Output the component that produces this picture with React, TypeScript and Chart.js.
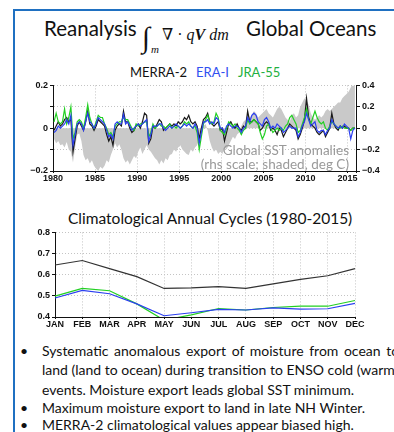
import React, { useEffect, useRef } from "react";
import { Chart, registerables } from "chart.js";

Chart.register(...registerables);

// ---------- Top chart data (quarterly, Jan 1980 - Dec 2015) ----------
const startYear = 1980;
const samplesPerYear = 4;

// MERRA-2, lhs scale
const merra2 = [
  -0.01, 0.01, 0.03, 0.01,
  0.02, 0.04, 0.05, 0.03,
  0.04, -0.11, -0.05, 0.01,
  0.03, 0.01, -0.01, 0.03,
  0.08, 0.02, 0.01, -0.01,
  0.01, 0.04, 0.03, 0.02,
  0.01, -0.03, -0.06, -0.04,
  -0.08, -0.01, 0.01, 0.02,
  0.01, 0.08, 0.03, 0.03,
  0.0, -0.02, -0.01, 0.01,
  0.02, 0.0, 0.03, 0.07,
  0.06, -0.07, -0.05, 0.01,
  0.0, 0.02, 0.04, 0.03,
  -0.01, 0.0, 0.01, 0.02,
  0.01, 0.02, 0.01, 0.03,
  0.02, 0.03, 0.05, 0.04,
  0.06, 0.03, 0.02, 0.03,
  0.01, -0.05, 0.0, 0.04,
  0.05, 0.07, 0.03, 0.02,
  0.01, 0.02, 0.03, -0.01,
  0.0, -0.06, -0.02, 0.02,
  0.03, 0.01, 0.0, 0.02,
  0.0, -0.01, 0.01, 0.0,
  0.08, 0.03, 0.03, 0.04,
  0.03, 0.02, -0.01, 0.0,
  0.02, 0.03, 0.02, -0.01,
  0.0, -0.01, -0.03, 0.0,
  -0.01, -0.04, -0.02, 0.0,
  0.02, 0.01, 0.0, -0.01,
  -0.05, -0.03, 0.0, 0.04,
  0.14, 0.05, 0.02, 0.01,
  0.0, -0.02, -0.03, -0.02,
  -0.01, -0.04, -0.02, 0.0,
  0.07, 0.02, 0.0, -0.01,
  0.01, 0.0, 0.01, 0.0,
  0.0, -0.01, 0.0, 0.0,
];

// ERA-I, lhs scale
const eraI = [
  -0.02, -0.01, 0.01, 0.0,
  0.01, 0.02, 0.04, 0.02,
  0.06, -0.08, -0.03, 0.02,
  0.03, 0.02, -0.01, 0.03,
  0.07, 0.03, 0.02, 0.0,
  0.02, 0.05, 0.04, 0.03,
  0.02, -0.01, -0.04, -0.03,
  -0.05, 0.02, 0.03, 0.02,
  0.02, 0.065, 0.02, 0.03,
  0.01, -0.01, 0.0, 0.01,
  0.02, 0.01, 0.02, 0.03,
  0.04, -0.06, -0.03, 0.01,
  0.01, 0.01, 0.02, 0.02,
  0.0, -0.01, 0.0, 0.01,
  0.0, 0.01, 0.02, 0.01,
  0.0, 0.01, 0.02, 0.01,
  0.02, 0.01, 0.0, 0.02,
  0.0, -0.07, -0.02, 0.03,
  0.03, 0.04, 0.02, 0.03,
  0.02, 0.05, 0.04, 0.0,
  0.0, -0.02, 0.01, 0.02,
  0.01, 0.0, 0.01, 0.01,
  0.0, -0.02, 0.0, 0.01,
  0.05, 0.03, 0.06, 0.07,
  0.06, 0.03, 0.02, 0.01,
  0.04, 0.05, 0.03, 0.0,
  0.01, 0.0, 0.02, 0.01,
  0.0, -0.02, -0.01, 0.0,
  0.01, 0.0, 0.0, 0.0,
  -0.04, -0.02, 0.01, 0.03,
  0.07, 0.04, 0.01, 0.02,
  0.03, -0.01, -0.02, -0.01,
  -0.01, -0.03, -0.01, 0.0,
  0.04, 0.02, 0.01, 0.0,
  0.01, 0.0, 0.02, 0.01,
  0.0, -0.05, -0.01, 0.0,
];

// JRA-55, lhs scale
const jra55 = [
  0.03, 0.07, 0.03, 0.02,
  0.03, 0.09, 0.02, 0.05,
  0.1, -0.05, -0.02, 0.03,
  0.04, 0.03, 0.0, 0.05,
  0.11, 0.05, 0.02, 0.0,
  0.03, 0.06, 0.05, 0.05,
  0.02, 0.0, -0.03, -0.02,
  -0.04, 0.01, 0.02, 0.03,
  0.03, 0.05, 0.04, 0.04,
  0.02, 0.0, -0.01, 0.02,
  0.01, 0.02, 0.02, 0.03,
  0.03, -0.04, -0.02, 0.02,
  0.0, 0.01, 0.02, 0.01,
  0.01, 0.0, 0.01, 0.02,
  0.0, 0.01, 0.0, 0.01,
  0.0, 0.01, 0.03, 0.02,
  0.03, 0.01, 0.0, 0.01,
  -0.02, -0.1, -0.04, 0.02,
  0.04, 0.06, 0.03, 0.02,
  0.03, 0.07, 0.05, -0.01,
  -0.02, -0.03, 0.0, 0.03,
  0.02, 0.01, 0.02, 0.0,
  -0.01, -0.03, -0.01, 0.0,
  0.04, 0.02, 0.03, 0.04,
  0.03, 0.02, -0.02, -0.05,
  -0.03, 0.01, 0.02, 0.0,
  -0.02, -0.01, 0.0, -0.01,
  0.0, -0.01, 0.01, 0.02,
  0.05, 0.06, 0.04, 0.02,
  -0.02, -0.01, 0.02, 0.05,
  0.09, 0.04, 0.02, 0.05,
  0.08, 0.05, 0.03, 0.02,
  0.03, 0.0, -0.01, 0.01,
  0.03, 0.02, 0.01, 0.0,
  0.0, 0.01, 0.0, 0.0,
  0.0, -0.01, 0.0, 0.0,
];

// Global SST anomalies (deg C), rhs scale
const sstAnomaly = [
  -0.1, -0.14, -0.12, -0.16,
  -0.15, -0.18, -0.13, -0.2,
  -0.22, -0.32, -0.18, -0.06,
  -0.05, -0.12, -0.25, -0.3,
  -0.28, -0.33, -0.3, -0.35,
  -0.38, -0.4, -0.36, -0.38,
  -0.35, -0.3, -0.32, -0.25,
  -0.2, -0.14, -0.18, -0.15,
  -0.2, -0.28, -0.32, -0.3,
  -0.34, -0.3, -0.26, -0.28,
  -0.22, -0.18, -0.24, -0.2,
  -0.16, -0.2, -0.22, -0.25,
  -0.28, -0.3, -0.34, -0.3,
  -0.33, -0.28, -0.3, -0.25,
  -0.24, -0.2, -0.22, -0.18,
  -0.16, -0.2, -0.22, -0.24,
  -0.25, -0.2, -0.22, -0.18,
  -0.16, -0.1, -0.04, 0.02,
  0.04, -0.02, -0.12, -0.18,
  -0.22, -0.2, -0.24, -0.22,
  -0.24, -0.18, -0.2, -0.16,
  -0.12, -0.08, -0.1, -0.06,
  -0.04, 0.02, 0.06, 0.08,
  0.14, 0.1, 0.12, 0.16,
  0.14, 0.1, 0.12, 0.14,
  0.16, 0.18, 0.14, 0.12,
  0.1, 0.14, 0.18, 0.2,
  0.18, 0.14, 0.1, 0.08,
  0.06, 0.12, 0.14, 0.1,
  0.12, 0.2, 0.24, 0.28,
  0.26, 0.22, 0.14, 0.1,
  0.08, 0.1, 0.12, 0.1,
  0.12, 0.16, 0.18, 0.16,
  0.18, 0.2, 0.22, 0.24,
  0.24, 0.28, 0.3, 0.32,
  0.34, 0.38, 0.42, 0.45,
];

const leftTickLabels = [0.2, 0, -0.2];
const rightTickLabels = [0.4, 0.2, 0, -0.2, -0.4];
const yearTickLabels = [1980, 1985, 1990, 1995, 2000, 2005, 2010, 2015];

// ---------- Bottom chart data (climatological annual cycles) ----------
const months = ["JAN", "FEB", "MAR", "APR", "MAY", "JUN", "JUL", "AUG", "SEP", "OCT", "NOV", "DEC"];
const merra2Clim = [0.646, 0.667, 0.629, 0.591, 0.535, 0.538, 0.544, 0.535, 0.557, 0.578, 0.595, 0.629];
const eraIClim = [0.49, 0.526, 0.51, 0.462, 0.406, 0.42, 0.436, 0.433, 0.443, 0.437, 0.439, 0.464];
const jra55Clim = [0.499, 0.535, 0.524, 0.462, 0.385, 0.41, 0.44, 0.433, 0.445, 0.451, 0.451, 0.478];

const BLACK = "#1a1a1a";
const BLUE = "#2b3ff0";
const GREEN = "#22d022";
const FRAME = "#1f70c1";
const TICK_FONT = { family: "'Liberation Sans', Arial, sans-serif", size: 9, weight: "bold" as const };
const GRID = "#c4c4c4";

const toXY = (arr: number[]) => arr.map((v, i) => ({ x: startYear + (i + 0.5) / samplesPerYear, y: v }));
const fmtMinus = (v: number) => (v < 0 ? "\u2212" + String(Math.abs(v)) : String(v));

function TopChart() {
  const ref = useRef<HTMLCanvasElement>(null);
  useEffect(() => {
    if (!ref.current) return;
    const chart = new Chart(ref.current, {
      type: "line",
      data: {
        datasets: [
          { label: "MERRA-2", data: toXY(merra2), borderColor: BLACK, borderWidth: 1.2, pointRadius: 0, yAxisID: "y", order: 3, tension: 0 },
          { label: "JRA-55", data: toXY(jra55), borderColor: GREEN, borderWidth: 1.2, pointRadius: 0, yAxisID: "y", order: 2, tension: 0 },
          { label: "ERA-I", data: toXY(eraI), borderColor: BLUE, borderWidth: 1.2, pointRadius: 0, yAxisID: "y", order: 1, tension: 0 },
          { label: "SST", data: toXY(sstAnomaly), borderColor: "rgba(0,0,0,0)", borderWidth: 0, backgroundColor: "#c9c9c9", fill: "origin", pointRadius: 0, yAxisID: "y2", order: 10, tension: 0 },
        ],
      },
      options: {
        animation: false,
        responsive: false,
        devicePixelRatio: 1,
        layout: { padding: { top: 7, left: 0, right: 0, bottom: 0 } },
        plugins: { legend: { display: false }, tooltip: { enabled: false } },
        scales: {
          x: {
            type: "linear",
            min: 1980,
            max: 2016,
            afterFit: (s: any) => { s.height = 19; },
            afterBuildTicks: (s: any) => { s.ticks = [...yearTickLabels, 2016].map((v) => ({ value: v })); },
            ticks: {
              font: TICK_FONT,
              color: "#111",
              padding: 0,
              maxRotation: 0,
              autoSkip: false,
              callback: (v: any) => (yearTickLabels.includes(Number(v)) ? String(v) : ""),
            },
            grid: { color: GRID, tickLength: 2, tickColor: "#111", drawTicks: true },
            border: { color: "#111", width: 1, dash: [1, 2] },
          },
          y: {
            position: "left",
            min: -0.2,
            max: 0.2,
            afterFit: (s: any) => { s.width = 53; },
            afterBuildTicks: (s: any) => { s.ticks = [-0.2, -0.1, 0, 0.1, 0.2].map((v) => ({ value: v })); },
            ticks: {
              font: TICK_FONT,
              color: "#111",
              padding: 2,
              callback: (v: any) => (leftTickLabels.includes(Number(v)) ? fmtMinus(Number(v)) : ""),
            },
            grid: { color: GRID, tickLength: 3, tickColor: "#111" },
            border: { color: "#111", width: 1, dash: [1, 2] },
          },
          y2: {
            position: "right",
            min: -0.4,
            max: 0.4,
            afterFit: (s: any) => { s.width = 38; },
            afterBuildTicks: (s: any) => { s.ticks = rightTickLabels.map((v) => ({ value: v })); },
            ticks: {
              font: TICK_FONT,
              color: "#111",
              padding: 2,
              callback: (v: any) => fmtMinus(Number(v)),
            },
            grid: { drawOnChartArea: false, tickLength: 4, tickColor: "#111" },
            border: { color: "#111", width: 1 },
          },
        },
      },
    } as any);
    return () => chart.destroy();
  }, []);
  return <canvas ref={ref} width={394} height={112} style={{ position: "absolute", left: 0, top: 78, width: 394, height: 112 }} />;
}

function BottomChart() {
  const ref = useRef<HTMLCanvasElement>(null);
  useEffect(() => {
    if (!ref.current) return;
    const chart = new Chart(ref.current, {
      type: "line",
      data: {
        labels: months,
        datasets: [
          { label: "MERRA-2", data: merra2Clim, borderColor: "#333", borderWidth: 1.2, pointRadius: 0, order: 3, tension: 0 },
          { label: "JRA-55", data: jra55Clim, borderColor: GREEN, borderWidth: 1.2, pointRadius: 0, order: 2, tension: 0 },
          { label: "ERA-I", data: eraIClim, borderColor: BLUE, borderWidth: 1.2, pointRadius: 0, order: 1, tension: 0 },
        ],
      },
      options: {
        animation: false,
        responsive: false,
        devicePixelRatio: 1,
        layout: { padding: { top: 6, left: 0, right: 39, bottom: 0 } },
        plugins: { legend: { display: false }, tooltip: { enabled: false } },
        scales: {
          x: {
            offset: false,
            afterFit: (s: any) => { s.height = 13; },
            ticks: { font: TICK_FONT, color: "#111", padding: 0, maxRotation: 0, autoSkip: false },
            grid: { color: GRID, tickLength: 2, tickColor: "#111", offset: false },
            border: { color: "#111", width: 1, dash: [1, 2] },
          },
          y: {
            min: 0.4,
            max: 0.8,
            afterFit: (s: any) => { s.width = 55; },
            afterBuildTicks: (s: any) => {
              const t = [];
              for (let k = 0; k <= 8; k++) t.push({ value: Number((0.4 + k * 0.05).toFixed(2)) });
              s.ticks = t;
            },
            ticks: {
              font: TICK_FONT,
              color: "#111",
              padding: 2,
              callback: (v: any) => String(Number(Number(v).toFixed(2))),
            },
            grid: { color: GRID, tickLength: 3, tickColor: "#111" },
            border: { color: "#111", width: 1, dash: [1, 2] },
          },
        },
      },
    } as any);
    return () => chart.destroy();
  }, []);
  return <canvas ref={ref} width={394} height={105} style={{ position: "absolute", left: 0, top: 225, width: 394, height: 105 }} />;
}

const SANS = "Lato, 'Open Sans', sans-serif";
const SERIF = "'Liberation Serif', 'DejaVu Serif', serif";

const bulletLines = [
  { bullet: true, text: "Systematic anomalous export of moisture from ocean to", wordSpacing: 2, top: 342 },
  { bullet: false, text: "land (land to ocean) during transition to ENSO cold (warm)", wordSpacing: 0, top: 361 },
  { bullet: false, text: "events. Moisture export leads global SST minimum.", wordSpacing: 0, top: 380.5 },
  { bullet: true, text: "Maximum moisture export to land in late NH Winter.", wordSpacing: 0, top: 399 },
  { bullet: true, text: "MERRA-2 climatological values appear biased high.", wordSpacing: 0, top: 416 },
];

export default function App() {
  const abs = (s: React.CSSProperties): React.CSSProperties => ({ position: "absolute", whiteSpace: "nowrap", ...s });
  return (
    <div style={{ position: "fixed", left: 0, top: 0, width: 394, height: 432, background: "#fff", overflow: "hidden", fontFamily: SANS }}>
      {/* slide frame */}
      <div style={abs({ left: 13, top: 9, width: 381, height: 2, background: FRAME })} />
      <div style={abs({ left: 13, top: 9, width: 2, height: 423, background: FRAME })} />

      {/* title */}
      <div style={abs({ left: 44, top: 15, fontSize: 20.5, lineHeight: "26px", color: "#111" })}>Reanalysis</div>
      <div style={abs({ left: 142, top: 21, fontSize: 29, lineHeight: "32px", fontFamily: SERIF, color: "#111" })}>∫</div>
      <div style={abs({ left: 151, top: 43, fontSize: 11, lineHeight: "12px", fontFamily: SERIF, fontStyle: "italic", color: "#111" })}>m</div>
      <div style={abs({ left: 162, top: 26, fontSize: 16, lineHeight: "18px", fontFamily: SERIF, color: "#111" })}>
        ∇ · <i>q</i><b><i>V</i></b> <i>dm</i>
      </div>
      <div style={abs({ left: 246, top: 15, fontSize: 20.5, lineHeight: "26px", color: "#111" })}>Global Oceans</div>

      {/* legend */}
      <div style={abs({ left: 130, top: 64, fontSize: 13, lineHeight: "16px" })}>
        <span style={{ color: "#111" }}>MERRA-2</span>
        <span style={{ color: "#3050f0", marginLeft: 9 }}>ERA-I</span>
        <span style={{ color: "#22b040", marginLeft: 9 }}>JRA-55</span>
      </div>

      <TopChart />

      {/* SST annotation */}
      <div style={abs({ right: 394 - 349, top: 144, fontSize: 13.5, lineHeight: "13.5px", color: "#9a9a9a", textAlign: "right" })}>
        Global SST anomalies
        <br />
        (rhs scale; shaded, deg C)
      </div>

      {/* bottom title */}
      <div style={abs({ left: 68, top: 209, fontSize: 15.5, lineHeight: "19px", color: "#111" })}>
        Climatological Annual Cycles (1980-2015)
      </div>

      <BottomChart />

      {/* bullets */}
      {bulletLines.map((l, i) => (
        <div key={i} style={abs({ left: 0, top: l.top, width: 394, height: 18, fontSize: 14, lineHeight: "18px", color: "#111" })}>
          {l.bullet && <span style={{ position: "absolute", left: 20 }}>•</span>}
          <span style={{ position: "absolute", left: 42, wordSpacing: l.wordSpacing }}>{l.text}</span>
        </div>
      ))}
    </div>
  );
}
